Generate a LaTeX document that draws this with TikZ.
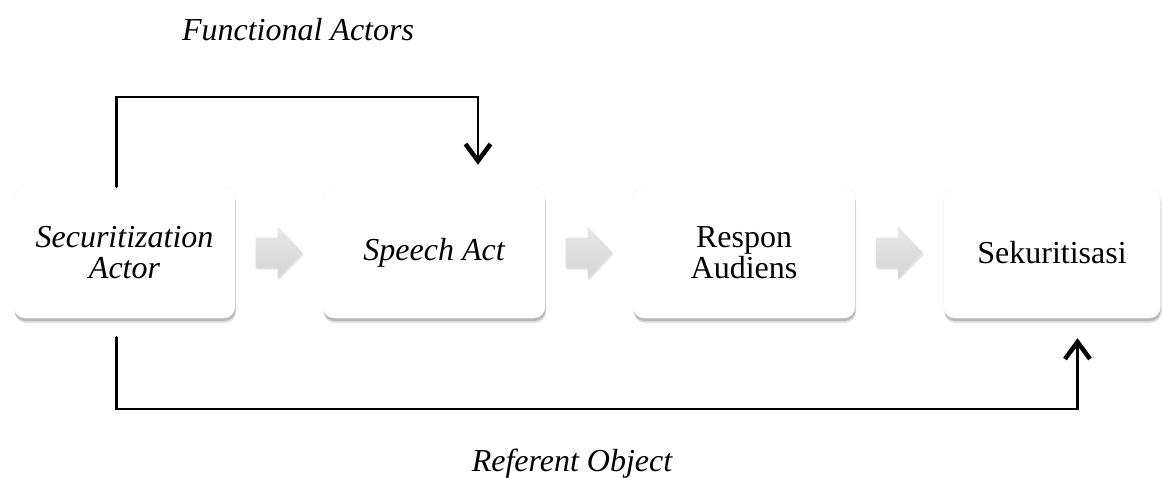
\documentclass[tikz,border=0pt]{standalone}
\usepackage{fontspec}
\setmainfont{Liberation Serif}
\usetikzlibrary{arrows.meta,shadows,calc}
\tikzset{
  box/.style={draw=gray!10, fill=white, rounded corners=11pt, minimum height=131pt,
    align=center, inner sep=0pt,
    font=\fontsize{32}{31}\selectfont,
    drop shadow={shadow xshift=0.5pt, shadow yshift=-3pt, opacity=0.18, fill=black},
    drop shadow={shadow xshift=1pt, shadow yshift=-5pt, opacity=0.12, fill=black}},
  garrowfill/.style={draw=none, top color=gray!18, bottom color=gray!34,
    drop shadow={shadow xshift=1pt, shadow yshift=-2pt, opacity=0.10, fill=black}},
  pics/grayarrow/.style={code={
    \path[garrowfill] (-23.5,-15) -- (-1.5,-15) -- (-1.5,-26.5) -- (23.5,0)
      -- (-1.5,26.5) -- (-1.5,15) -- (-23.5,15) -- cycle;}},
  conn/.style={line width=2.4pt, line cap=round,
    -{Straight Barb[length=17pt,width=25pt,line width=4.5pt 0 0]}},
  lbl/.style={font=\fontsize{32}{32}\selectfont\itshape, anchor=base}
}
\begin{document}
\begin{tikzpicture}[x=1pt,y=-1pt]
\useasboundingbox (0,0) rectangle (1162,477);
\node[box, minimum width=221pt] (b1) at (124.5,252.5) {\itshape Securitization\\\itshape Actor};
\node[box, minimum width=222pt] (b2) at (434,252.5) {\itshape Speech Act};
\node[box, minimum width=222pt] (b3) at (744,252.5) {Respon\\Audiens};
\node[box, minimum width=217pt] (b4) at (1052,252.5) {Sekuritisasi};
\coordinate (g1) at ($(b1.east)!0.5!(b2.west)$);
\coordinate (g2) at ($(b2.east)!0.5!(b3.west)$);
\coordinate (g3) at ($(b3.east)!0.5!(b4.west)$);
\pic at (g1) {grayarrow};
\pic at (g2) {grayarrow};
\pic at (g3) {grayarrow};
\draw[conn] ([xshift=-8pt]b1.north) -- ++(0,-90) -| ([xshift=44pt,yshift=22pt]b2.north);
\draw[conn] ([xshift=-8pt,yshift=-19pt]b1.south) -- ++(0,72) -| ([xshift=25.5pt,yshift=-20pt]b4.south);
\node[lbl] (fa) at (298,40) {Functional Actors};
\node[lbl] (ro) at (572,471) {Referent Object};
\end{tikzpicture}
\end{document}
